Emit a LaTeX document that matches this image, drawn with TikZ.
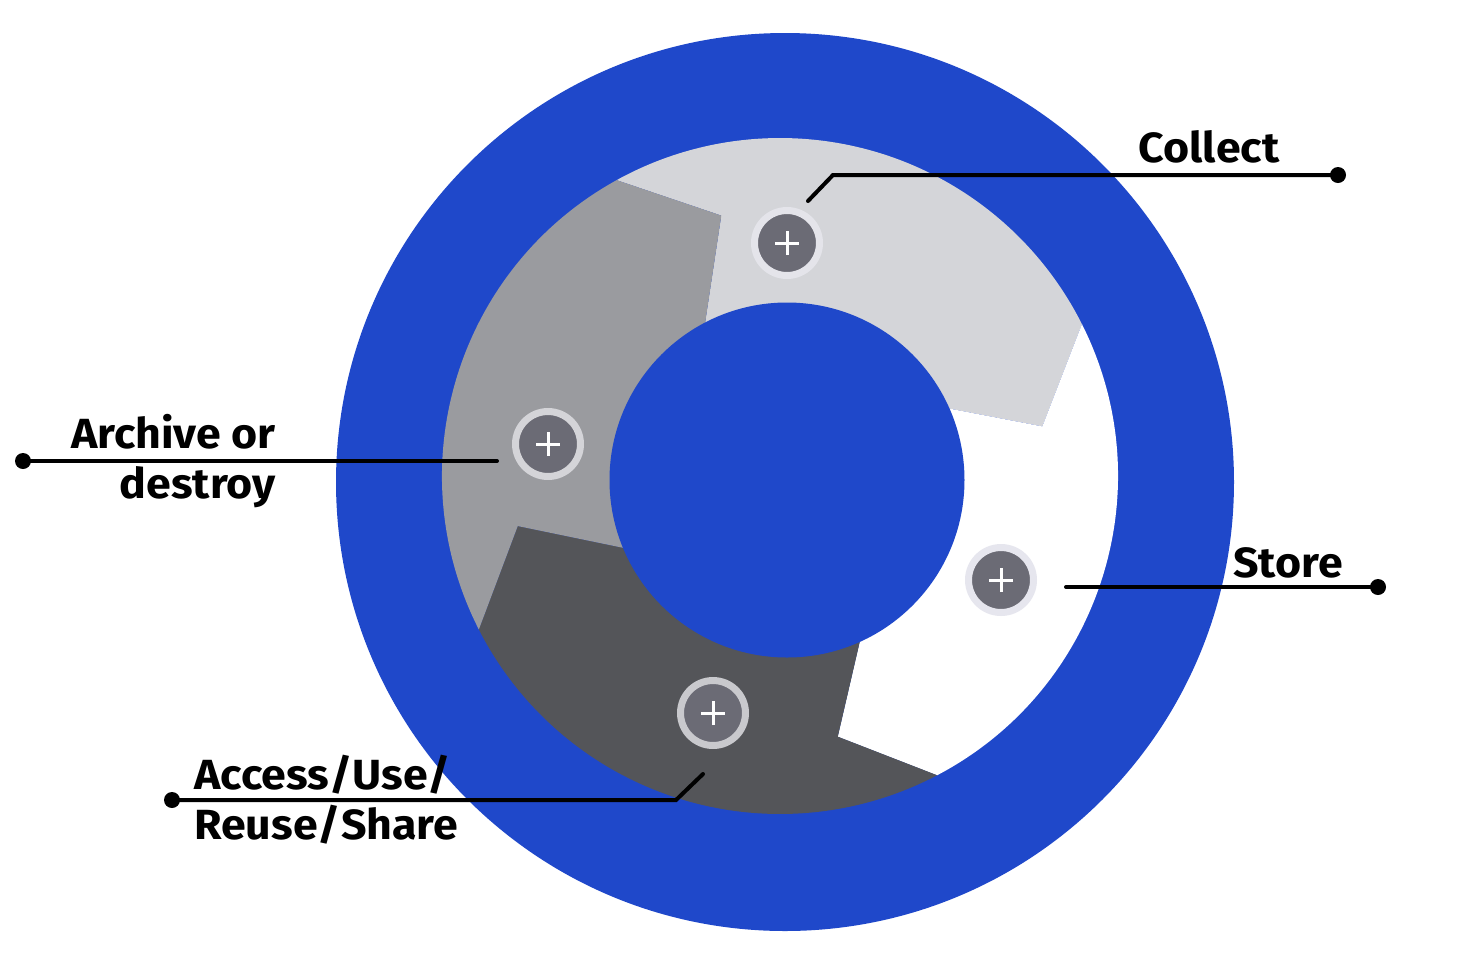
\documentclass[tikz,border=0pt]{standalone}
\usepackage{fontspec}
\setmainfont[FakeStretch=1.06]{Fira Sans}
\usetikzlibrary{calc}

\definecolor{ringblue}{RGB}{31,72,202}
\definecolor{collectgray}{RGB}{212,213,217}
\definecolor{archivegray}{RGB}{154,155,159}
\definecolor{accessgray}{RGB}{84,85,89}
\definecolor{btngray}{RGB}{107,107,117}
\definecolor{collectring}{RGB}{228,228,234}
\definecolor{archivering}{RGB}{212,212,216}
\definecolor{storering}{RGB}{230,230,238}
\definecolor{accessring}{RGB}{201,201,205}

\begin{document}
\begin{tikzpicture}[x=0.02cm,y=0.02cm]

        \tikzstyle{plusbtn}=[circle,fill=btngray,line width=0.14cm,minimum size=1.3cm,inner sep=0pt]
        \tikzstyle{plusmark}=[white,line width=0.06cm]
        \tikzstyle{leader}=[black,line width=0.08cm,line cap=round]
        \tikzstyle{enddot}=[circle,fill=black,minimum size=0.32cm,inner sep=0pt]
        \tikzstyle{stagelabel}=[font=\bfseries\fontsize{24}{28.5}\selectfont,inner sep=0pt]

        \useasboundingbox (0,0) rectangle (1468,-958);

        %% Outer blue disc
        \fill[ringblue] (785,-482) circle[radius=449];

        \coordinate (ringc) at (780,-476);
        \coordinate (innerc) at (787,-480);

        %% Cycle segments: outer angles, tip angles, inner angles
        \edef\Ro{338}
        \edef\Ri{172}
        \edef\Rt{267}
        \foreach \col/\oa/\ob/\ta/\tb/\ia/\ib in {collectgray/118.9/26.7/102.7/10.7/118.8/25,
                                              white/26.7/-62.3/10.7/-77.5/25/-64.4,
                                              accessgray/-62.3/-153/-77.5/-169.2/-64.4/-156.3,
                                              archivegray/207/118.9/190.8/102.7/203.7/118.8}
        {
            \fill[\col] ($(ringc)+(\oa:\Ro)$) arc[start angle=\oa,end angle=\ob,radius=\Ro]
                -- ($(ringc)+(\tb:\Rt)$) -- ($(innerc)+(\ib:\Ri)$)
                arc[start angle=\ib,end angle=\ia,radius=\Ri]
                -- ($(ringc)+(\ta:\Rt)$) -- cycle;
        }

        %% Inner blue disc
        \fill[ringblue] (innerc) circle[radius=177.5];

        %% Buttons
        \node[plusbtn,draw=collectring] (collectbtn) at (787,-243) {};
        \node[plusbtn,draw=archivering] (archivebtn) at (548,-444) {};
        \node[plusbtn,draw=storering] (storebtn) at (1001,-580) {};
        \node[plusbtn,draw=accessring] (accessbtn) at (713,-713) {};
        \foreach \btn in {collectbtn,archivebtn,storebtn,accessbtn}
        {
            \draw[plusmark] ([xshift=-0.24cm]\btn.center) -- ([xshift=0.24cm]\btn.center);
            \draw[plusmark] ([yshift=-0.24cm]\btn.center) -- ([yshift=0.24cm]\btn.center);
        }

        %% Leader lines
        \node[enddot] (collectdot) at (1338,-175) {};
        \coordinate (collectbend) at (833,-175);
        \coordinate (collectend) at (808,-201);
        \draw[leader] (collectend) -- (collectbend) -- (collectdot.center);

        \node[enddot] (storedot) at (1378,-587) {};
        \coordinate (storeend) at (1066,-587);
        \draw[leader] (storeend) -- (storedot.center);

        \node[enddot] (archivedot) at (23,-461) {};
        \coordinate (archiveend) at (497,-461);
        \draw[leader] (archivedot.center) -- (archiveend);

        \node[enddot] (accessdot) at (172,-800) {};
        \coordinate (accessbend) at (676,-800);
        \coordinate (accessend) at (703,-774);
        \draw[leader] (accessdot.center) -- (accessbend) -- (accessend);

        %% Labels
        \node[stagelabel] (collectlabel) at (1209,-147) {Collect};
        \node[stagelabel] (storelabel) at (1288,-563) {Store};
        \node[stagelabel,anchor=east,align=right] (archivelabel) at (276,-461) {Archive or\\destroy};
        \node[stagelabel,anchor=west,align=left] (accesslabel) at (194,-800) {Access/Use/\\Reuse/Share};

\end{tikzpicture}
\end{document}
